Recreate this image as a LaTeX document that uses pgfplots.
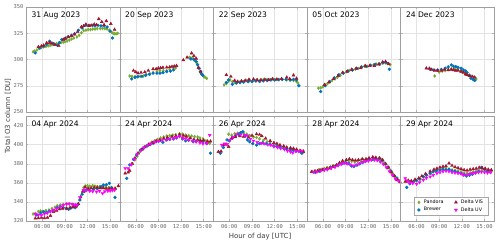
\documentclass[border=0pt]{standalone}
\usepackage{fontspec}
\setmainfont{DejaVu Sans}
\setmonofont{DejaVu Sans Mono}
\usepackage{pgfplots}
\pgfplotsset{compat=1.18}
\definecolor{cPan}{HTML}{77AC30}
\definecolor{cBre}{HTML}{0072BD}
\definecolor{cVis}{HTML}{A2142F}
\definecolor{cUV}{HTML}{FF00FF}
\newcommand\tickfont{\ttfamily\fontsize{5.4}{6}\selectfont}
\newcommand\titfont{\fontsize{7.6}{8}\selectfont}
\newcommand\labfont{\fontsize{7}{8}\selectfont}
\newcommand\legfont{\fontsize{4.8}{5.5}\selectfont}
\pgfplotsset{
  base/.style={scale only axis, width=93.6pt, height=105pt, anchor=south west,
    xmin=3.9, xmax=16.3, xtick={6,9,12,15},
    grid=major, grid style={gray!22, line width=0.4pt},
    axis line style={gray!75, line width=0.7pt},
    tick style={gray!60, line width=0.4pt}, tick align=inside, major tick length=2pt,
    tick label style={font=\tickfont, text=black!60},
    /pgf/number format/assume math mode=true,
    xticklabel style={yshift=0.5pt}, yticklabel style={xshift=0.5pt},
    clip=true},
  toprow/.style={base, ymin=250, ymax=350, ytick={250,275,300,325,350}, xticklabels={}},
  botrow/.style={base, ymin=320, ymax=430, ytick={320,340,360,380,400,420},
    xticklabels={06:00,09:00,12:00,15:00}},
  noy/.style={yticklabels={}},
  pan/.style={only marks, mark=diamond*, mark size=1.5pt, color=cPan, forget plot},
  bre/.style={only marks, mark=*, mark size=1.45pt, color=cBre, forget plot},
  vis/.style={only marks, mark=triangle*, mark size=1.7pt, color=cVis, forget plot},
  uv/.style={only marks, mark=triangle*, mark size=1.7pt, mark options={rotate=180}, color=cUV, forget plot},
}
\newcommand\ptitle[1]{\node[anchor=north west, inner sep=0pt, font=\titfont] at (rel axis cs:0.055,0.958) {#1};}
\begin{document}
\begin{tikzpicture}
\path[use as bounding box] (0,0) rectangle (500pt,247pt);
% ---------------- top row ----------------
\begin{axis}[toprow, at={(26.3pt,135pt)}]
\addplot[pan] coordinates {(4.8,307.3)(5.0,308)(5.3,309)(5.6,310.5)(5.9,311.5)(6.2,312)(6.5,312.5)(6.8,313)(7.05,313.5)(7.3,314)(7.6,314.5)(7.9,315)(8.2,315.5)(8.5,316)(8.8,316.5)(9.0,317)(9.3,317.5)(9.6,318.5)(9.9,319.5)(10.2,320.5)(10.6,321.5)(10.9,323)(11.2,325.5)(11.5,327.5)(11.8,328)(12.1,328.5)(12.4,328.5)(12.7,329)(13.0,329)(13.3,329.5)(13.7,329.5)(14.0,329.5)(14.3,329.5)(14.6,329)(14.9,328)(15.2,326)(15.4,325)(15.6,324.5)(15.8,324.5)(16.0,325)};
\addplot[bre] coordinates {(5.1,306.3)(5.7,311)(6.2,312.7)(6.6,314.5)(7.0,317.4)(7.5,315.2)(8.0,313.6)(8.3,316)(8.6,319)(9.0,320)(9.4,321.5)(9.9,323)(10.3,324.5)(10.8,327.8)(11.3,330)(11.8,332.6)(12.2,332.6)(12.7,332.6)(13.0,332)(13.4,332.6)(13.8,332)(14.2,332)(14.6,331)(15.0,327)(15.3,320.5)};
\addplot[vis] coordinates {(5.5,312)(5.9,312.7)(6.2,313.5)(6.6,315.8)(7.0,316)(7.3,315.5)(7.7,314)(8.2,313)(8.8,319)(9.1,320)(9.5,321.5)(9.9,322.5)(10.3,324)(10.7,326.3)(11.2,331)(11.5,332)(11.8,333.5)(12.2,332)(12.5,332.5)(12.9,333.5)(13.2,333)(13.5,338.6)(13.9,335.8)(14.2,333)(14.5,336.7)(15.1,334)(15.6,328.5)};
\ptitle{31 Aug 2023}
\end{axis}
\begin{axis}[toprow, noy, at={(119.9pt,135pt)}]
\addplot[pan] coordinates {(5.2,284.3)(5.5,284)(5.9,283.7)(6.2,283.5)(6.6,284)(7.0,284.3)(7.4,285.5)(7.9,286.3)(8.3,287.5)(8.8,288.4)(9.2,289.5)(9.65,289.4)(10.1,289.4)(10.5,290.5)(11.0,291.7)(11.3,292)(13.1,302)(13.3,301.5)(13.6,301)(13.8,299)(14.1,296.4)(14.3,292)(14.5,288.4)(14.7,286)(15.0,283.7)(15.2,283)(15.4,282)};
\addplot[bre] coordinates {(5.46,281.5)(5.9,283)(6.3,283.7)(6.8,284)(7.3,285)(7.8,286)(8.3,287)(8.8,287)(9.2,287)(9.6,287.5)(10.1,288.5)(10.6,289)(11.0,290)(13.3,300.5)(13.7,300)(14.0,298)(14.2,295)(14.4,291.7)(14.6,288.5)(14.7,286.3)(14.9,285)};
\addplot[vis] coordinates {(5.7,289.4)(6.0,288)(6.3,287)(6.7,287.5)(7.2,288)(7.66,289.4)(8.3,291)(8.7,291)(9.0,291.7)(9.3,292)(9.6,292.3)(10.1,292.5)(10.5,292.8)(10.8,293.2)(11.1,293.5)(11.4,294)(12.3,299.5)(12.8,302)(13.4,306)(13.7,303.5)(14.0,301)(14.3,292.3)(14.6,288.5)};
\ptitle{20 Sep 2023}
\end{axis}
\begin{axis}[toprow, noy, at={(213.5pt,135pt)}]
\addplot[pan] coordinates {(5.3,275.8)(5.6,277)(5.9,279.5)(6.1,280.6)(6.4,279)(6.7,278.5)(7.0,278)(7.4,278.5)(7.8,279)(8.3,280)(8.7,280)(9.2,280.3)(9.6,280.5)(10.1,280.6)(10.5,280.8)(11.0,281)(11.4,281)(11.8,281.2)(12.2,281)(12.6,281)(13.0,280.8)(13.6,280.6)(14.0,280.5)(14.5,280)(14.9,279)(15.1,277.5)};
\addplot[bre] coordinates {(5.6,278)(5.9,280.6)(6.4,276.5)(6.9,277.5)(7.4,278)(7.9,278.5)(8.5,279)(9.0,279)(9.5,279.5)(10.0,279)(10.5,279.6)(11.0,280)(11.5,280.5)(12.0,280.5)(12.5,280.8)(13.0,281.2)(13.5,281)(14.1,280.6)(14.5,281)(14.9,280.6)(15.2,275)};
\addplot[vis] coordinates {(5.6,285.3)(6.2,283.7)(6.7,280)(7.1,279)(7.6,279.5)(8.1,280)(8.6,281)(9.2,281.2)(9.7,280.5)(10.2,280.5)(10.7,281)(11.2,280.5)(11.7,281.5)(12.3,281.2)(12.9,281.5)(13.6,283)(14.0,281.5)(14.5,285)(14.9,282)};
\ptitle{22 Sep 2023}
\end{axis}
\begin{axis}[toprow, noy, at={(307.1pt,135pt)}]
\addplot[pan] coordinates {(5.4,272.7)(5.7,273)(6.0,274)(6.3,275.8)(6.6,277)(6.9,278.5)(7.2,280)(7.6,281.5)(7.9,283)(8.3,285)(8.7,287)(9.1,288.4)(9.5,289.5)(9.9,290)(10.3,290.8)(10.7,291.5)(11.1,292.5)(11.5,293.5)(11.9,293.5)(12.3,294.5)(12.7,294.8)(13.1,295.5)(13.5,296)(13.9,296.5)(14.3,296.8)(14.6,296)(14.9,295)};
\addplot[bre] coordinates {(5.7,269.5)(6.3,275)(6.9,279)(7.5,282.5)(8.1,285.5)(8.7,287)(9.3,289)(9.9,290)(10.5,291.5)(11.1,293)(11.7,293.5)(12.3,294.5)(12.9,295.5)(13.5,295.5)(14.0,297)(14.4,297)(14.8,290.7)};
\addplot[vis] coordinates {(6.2,276)(6.8,278.5)(7.4,281.5)(8.0,284.5)(8.6,287.5)(9.2,288.5)(9.8,290.5)(10.4,291.5)(11.0,292)(11.6,294)(12.2,294)(12.8,294)(13.4,295.5)(13.9,297.5)(14.3,298)(14.7,296)};
\ptitle{05 Oct 2023}
\end{axis}
\begin{axis}[toprow, noy, at={(400.7pt,135pt)}]
\addplot[pan] coordinates {(8.4,284.3)(9.0,288)(9.4,289)(9.8,289.5)(10.2,290.5)(10.6,291)(11.0,291)(11.4,290.5)(11.8,289)(12.1,288)(12.4,287)(12.7,285.5)(13.0,284.5)(13.3,284)(13.6,283)(13.9,281.5)};
\addplot[bre] coordinates {(7.8,290.7)(8.3,290)(8.8,290)(9.3,290.5)(9.8,291.7)(10.2,293)(10.6,294.8)(10.9,293.5)(11.2,293.2)(11.5,292.5)(11.9,291.7)(12.2,290)(12.5,289)(12.7,287.5)(13.0,285)(13.2,282.2)(13.5,281)(13.7,280)};
\addplot[vis] coordinates {(7.3,291.7)(7.7,291.5)(8.0,290.5)(8.4,289.4)(8.8,289.5)(9.3,289.4)(9.7,290.5)(10.2,290)(10.6,290.5)(10.9,290)(11.2,289.5)(11.5,289.4)(11.9,288.5)(12.2,287.5)(12.5,286)(12.7,285.3)(13.0,284.5)(13.4,283.7)(13.7,283)};
\ptitle{24 Dec 2023}
\end{axis}
% ---------------- bottom row ----------------
\begin{axis}[botrow, at={(26.3pt,26pt)}]
\addplot[pan] coordinates {(4.8,327.3)(5.1,328)(5.5,330)(5.8,330.5)(6.1,330)(6.5,331)(6.9,331.5)(7.3,333)(7.7,334.5)(8.0,336)(8.4,336.8)(8.8,337.5)(9.2,338)(9.6,338)(10.0,337.5)(10.4,337)(10.7,337.5)(11.0,343)(11.3,350)(11.5,355)(11.7,356.7)(12.0,357)(12.3,356.5)(12.7,357)(13.0,356.5)(13.3,356)(13.6,356)(14.0,356)(14.4,355.5)(14.8,355)(15.2,355)(15.6,354.3)};
\addplot[bre] coordinates {(5.3,326.3)(5.8,328.5)(6.2,329.7)(6.6,329)(7.0,330.5)(7.5,331)(8.0,334)(8.4,335)(8.8,334)(9.2,333)(9.5,332.3)(9.8,333.5)(10.1,335)(10.4,334)(10.7,337)(11.0,342)(11.3,348)(11.6,351)(11.9,352.5)(12.3,352)(12.8,353)(13.3,354)(13.8,356)(14.1,357.7)(14.5,358)(14.9,359.5)(15.2,355)(15.65,344.8)};
\addplot[vis] coordinates {(5.1,322.8)(5.5,323)(5.9,323.5)(6.3,323)(6.7,323.5)(7.1,325.5)(7.5,329.7)(7.9,331)(8.3,332.5)(8.7,333)(9.25,333.3)(9.7,334)(10.1,334.5)(10.5,335.5)(10.8,338)(11.1,345)(11.4,351)(11.7,355.3)(12.1,354)(12.5,354.5)(12.9,355)(13.3,355)(13.7,354.5)(14.1,354.5)(14.5,354)(14.9,354)(15.3,353.5)(15.7,354)(16.1,356.7)};
\addplot[uv] coordinates {(5.1,327.3)(5.5,326.5)(5.9,326)(6.3,327.5)(6.7,328.5)(7.1,330)(7.5,331.5)(7.9,333)(8.4,335)(8.8,336.5)(9.25,337.8)(9.6,338)(10.0,337.5)(10.3,337)(10.6,336.8)(11.0,344.8)(11.45,352.5)(11.8,352)(12.3,351.4)(12.7,351)(13.2,350.7)(13.6,351.5)(14.0,349)(14.3,351)(14.7,351.5)(15.0,351.7)(15.3,352)(15.6,352.5)};
\ptitle{04 Apr 2024}
\end{axis}
\begin{axis}[botrow, noy, at={(119.9pt,26pt)}]
\addplot[pan] coordinates {(5.6,380)(5.9,384)(6.2,388)(6.5,392)(6.9,395)(7.3,398)(7.7,400.5)(8.1,402.5)(8.5,404)(8.9,405.5)(9.3,407)(9.7,408)(10.1,409)(10.5,409.5)(10.9,410)(11.3,410.5)(11.8,411.5)(12.2,411)(12.6,410)(13.0,409.5)(13.4,409)(13.8,408.5)(14.2,408)(14.5,407)(14.9,406)(15.3,404)(15.6,402.5)(15.8,401.4)};
\addplot[bre] coordinates {(4.8,364.7)(5.2,378.7)(5.7,384.6)(6.1,389)(6.6,394.4)(7.0,396)(7.5,398.6)(7.9,400)(8.3,401.4)(8.7,403)(9.2,404)(9.6,402.5)(10.1,405)(10.5,405.5)(11.0,406)(11.4,407)(11.8,408.7)(12.2,406)(12.6,404)(13.0,404.5)(13.6,403)(14.0,403.5)(14.5,404)(14.9,403)(15.4,401)(15.9,391)};
\addplot[vis] coordinates {(4.6,370)(5.0,371)(5.2,372.7)(5.5,380)(5.9,386)(6.3,391)(6.8,395)(7.2,397.5)(7.7,400)(8.2,402)(8.7,404)(9.2,405)(9.7,406.5)(10.2,407.5)(10.8,408.5)(11.3,409)(11.8,410.5)(12.3,409.5)(12.7,408.5)(13.2,407)(13.7,405.5)(14.2,405)(14.6,404)(15.0,404.5)(15.5,403.5)(15.9,403.5)};
\addplot[uv] coordinates {(4.6,375.2)(5.0,375)(5.4,379)(5.8,385)(6.2,390)(6.7,394)(7.1,397)(7.6,399.5)(8.0,401)(8.5,402.5)(9.0,403.5)(9.5,404.5)(10.0,405)(10.5,406)(11.0,406.5)(11.4,407.5)(11.8,408.7)(12.2,407)(12.6,406)(13.0,405)(13.5,404)(14.0,403)(14.5,402)(14.9,401)(15.4,401.5)(15.8,410)};
\ptitle{24 Apr 2024}
\end{axis}
\begin{axis}[botrow, noy, at={(213.5pt,26pt)}]
\addplot[pan] coordinates {(5.9,411)(6.3,410)(6.7,411.5)(7.1,412)(7.5,412.5)(7.9,412)(8.3,411)(8.7,409.5)(9.2,408)(9.6,407.5)(10.0,406)(10.5,404.5)(11.0,403)(11.4,402.5)(11.9,401)(12.4,399)(12.8,397.5)(13.2,397)(13.6,396)(14.0,395.5)(14.4,395)(14.9,394.5)(15.3,394)(15.8,393.5)};
\addplot[bre] coordinates {(4.8,391)(5.2,397)(5.7,405)(6.0,404)(6.4,407)(6.8,409)(7.2,411)(7.5,412.5)(7.8,413.5)(8.1,409)(8.4,405)(8.7,403)(9.1,401)(9.6,399.6)(10.0,401)(10.4,402)(10.9,401)(11.4,400.5)(11.9,398.5)(12.3,398)(12.7,397.8)(13.2,396)(13.6,395.5)(14.1,394.5)(14.5,394)(14.9,393.5)(15.4,392.6)(15.6,391)};
\addplot[vis] coordinates {(4.55,392.6)(4.9,393)(5.2,399.6)(5.6,400)(5.9,397.8)(6.3,406.6)(6.8,408)(7.4,409)(7.9,408.5)(8.5,407.7)(9.0,409.5)(9.6,411)(10.0,410.5)(10.3,409)(10.8,406.5)(11.4,404)(11.9,402)(12.3,401)(12.7,399.6)(13.2,398.5)(13.6,397.2)(14.1,396.5)(14.5,396)(14.9,395)(15.4,393.5)(15.8,392.6)};
\addplot[uv] coordinates {(5.0,399.6)(5.4,401)(5.7,400.5)(6.1,405)(6.5,408)(7.0,411)(7.5,410.5)(8.0,410)(8.4,409.5)(8.8,406)(9.2,404)(9.7,402.5)(10.2,401.5)(10.6,401)(11.1,400)(11.5,399.5)(11.9,398)(12.4,397)(12.8,396)(13.3,395)(13.7,393.5)(14.1,392.5)(14.4,391.6)(14.8,393)(15.2,393)(15.6,393.5)};
\ptitle{26 Apr 2024}
\end{axis}
\begin{axis}[botrow, noy, at={(307.1pt,26pt)}]
\addplot[pan] coordinates {(4.6,372)(5.0,372.5)(5.4,373.5)(5.8,374)(6.2,375)(6.6,376)(7.0,377)(7.4,378)(7.8,379)(8.2,380.5)(8.6,381.5)(9.0,382.5)(9.4,383)(9.8,382.5)(10.2,382)(10.6,382.5)(11.0,383.5)(11.4,384)(11.8,384.5)(12.2,385)(12.6,386)(13.0,386)(13.4,385.5)(13.7,384.5)(14.0,382)(14.3,379)(14.6,375.5)(14.9,373)(15.2,370)(15.5,366.5)(15.8,364)(16.1,362)};
\addplot[bre] coordinates {(5.0,371)(5.5,372)(6.0,373.5)(6.5,374.5)(7.0,376)(7.5,377)(8.0,378.5)(8.5,380)(9.0,381)(9.4,380.5)(9.8,377.5)(10.1,377)(10.5,378.5)(10.9,380)(11.3,381.5)(11.7,383)(12.1,384)(12.6,384.5)(13.0,385)(13.4,384.5)(13.8,383)(14.2,380)(14.6,376.5)(15.0,372.5)(15.4,368)(15.8,365)};
\addplot[vis] coordinates {(4.5,371.6)(4.9,372)(5.3,372.5)(5.6,373.4)(6.0,374)(6.5,375)(6.9,375.2)(7.3,377)(7.8,378.7)(8.2,381)(8.6,383)(9.1,384)(9.5,385)(9.9,384)(10.3,383.5)(10.7,384)(11.2,385)(11.7,385)(12.1,386)(12.6,387)(13.0,386.5)(13.5,386)(13.9,384)(14.3,380)(14.7,376)(15.1,371)(15.5,367)(15.9,363)(16.2,361.2)};
\addplot[uv] coordinates {(4.8,371)(5.2,371.5)(5.7,372.5)(6.2,373.5)(6.6,374)(7.1,375.5)(7.6,376.5)(8.0,378)(8.4,379.5)(8.8,380.5)(9.2,380)(9.6,379)(10.0,378)(10.4,379)(10.8,380)(11.2,381.5)(11.6,382.5)(12.0,383)(12.4,384)(12.8,384)(13.2,383.5)(13.6,382)(14.0,379.5)(14.4,376)(14.8,372)(15.2,368)(15.6,364)(16.0,362)};
\ptitle{28 Apr 2024}
\end{axis}
\begin{axis}[botrow, noy, at={(400.7pt,26pt)},
  legend columns=2,
  legend style={at={(0.94,0.05)}, anchor=south east, font=\legfont, draw=gray!70, line width=0.4pt,
    inner xsep=3.5pt, inner ysep=1pt, row sep=-1.5pt,
    /tikz/every odd column/.append style={column sep=1.5pt},
    /tikz/every even column/.append style={column sep=9pt}},
  legend cell align=left]
\addplot[pan] coordinates {(4.7,362)(5.1,361)(5.6,361.5)(6.0,362)(6.5,364)(6.9,366)(7.3,368)(7.8,370)(8.2,371.5)(8.7,373)(9.1,374)(9.5,375)(9.9,375.5)(10.3,374.5)(10.7,373.5)(11.1,373)(11.5,372.5)(11.9,371.5)(12.3,370.5)(12.7,370)(13.1,370.5)(13.5,371.5)(13.9,372)(14.3,373)(14.7,373.5)(15.1,373)(15.5,372.5)(15.9,372)};
\addplot[bre] coordinates {(4.7,355.3)(5.1,359)(5.6,361.2)(6.0,362.5)(6.4,364)(6.9,366.5)(7.3,368)(7.8,370)(8.2,371.5)(8.6,372.5)(9.1,373.4)(9.5,374)(9.9,373.5)(10.3,374)(10.7,372.5)(11.1,372)(11.5,371)(11.9,370)(12.3,368.5)(12.6,367.1)(13.0,368)(13.4,369)(13.8,370.5)(14.2,372)(14.6,376.2)(15.0,374)(15.4,372)(15.8,371)};
\addplot[vis] coordinates {(4.5,361.2)(4.9,362.5)(5.3,362)(5.8,363.5)(6.3,365)(6.7,367)(7.2,369.5)(7.8,372)(8.3,374)(8.7,375)(9.1,376.2)(9.5,377)(9.9,377.5)(10.3,380.4)(10.7,378)(11.1,376.5)(11.5,375.5)(11.9,374.5)(12.3,373.5)(12.7,373)(13.1,374)(13.5,374.5)(13.9,375)(14.3,376)(14.7,375.5)(15.1,375)(15.5,374)(15.9,373.5)};
\addplot[uv] coordinates {(4.5,364.7)(4.8,362)(5.1,360.1)(5.5,359.5)(6.0,358.8)(6.4,360.5)(6.9,363)(7.3,365)(7.8,366.4)(8.2,368)(8.7,370)(9.1,371)(9.5,372)(9.9,372.5)(10.3,372)(10.7,371)(11.1,370.5)(11.5,370)(11.9,369.5)(12.2,368.2)(12.6,368.5)(13.0,369)(13.4,370)(13.8,370.5)(14.2,371)(14.6,371.5)(15.0,371)(15.4,370.5)(15.8,371)};
\addlegendimage{only marks, mark=diamond*, mark size=1.5pt, color=cPan}
\addlegendentry{Pandora}
\addlegendimage{only marks, mark=triangle*, mark size=1.7pt, color=cVis}
\addlegendentry{Delta VIS}
\addlegendimage{only marks, mark=*, mark size=1.45pt, color=cBre}
\addlegendentry{Brewer}
\addlegendimage{only marks, mark=triangle*, mark size=1.7pt, mark options={rotate=180}, color=cUV}
\addlegendentry{Delta UV}
\ptitle{29 Apr 2024}
\end{axis}
\node[rotate=90, font=\labfont, text=black!75] at (8pt,131pt) {Total O3 column [DU]};
\node[font=\labfont, text=black!75] at (260pt,10pt) {Hour of day [UTC]};
\end{tikzpicture}
\end{document}
